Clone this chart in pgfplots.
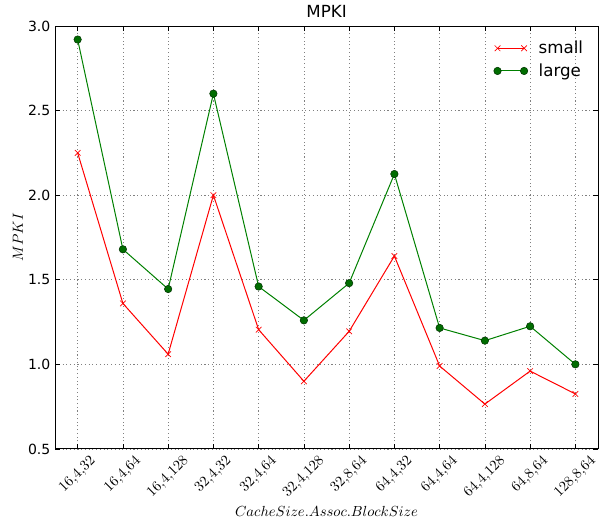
\documentclass[border=0pt]{standalone}
\usepackage{pgfplots}
\usepackage{graphicx}
\pgfplotsset{compat=1.18}
\usepackage{fontspec}
\setmainfont{DejaVu Sans}

\definecolor{mplred}{RGB}{255,0,0}
\definecolor{mplgreen}{RGB}{0,128,0}

% rotated category label whose bounding box hangs centred below the tick
\newcommand{\rl}[1]{\rotatebox{45}{$#1$}}

\pgfplotstableread{
x small large
0  2.25 2.92
1  1.36 1.68
2  1.06 1.445
3  2.00 2.60
4  1.205 1.46
5  0.90 1.26
6  1.195 1.48
7  1.64 2.125
8  0.99 1.215
9  0.765 1.14
10 0.96 1.225
11 0.825 1.00
}\mpki

\begin{document}
\begin{tikzpicture}
\begin{axis}[
  scale only axis,
  width=407pt, height=317pt,
  xmin=-0.5, xmax=11.5,
  ymin=0.5, ymax=3.0,
  xtick={0,...,11},
  xticklabels={\rl{16{,}4{,}32},\rl{16{,}4{,}64},\rl{16{,}4{,}128},\rl{32{,}4{,}32},\rl{32{,}4{,}64},\rl{32{,}4{,}128},\rl{32{,}8{,}64},\rl{64{,}4{,}32},\rl{64{,}4{,}64},\rl{64{,}4{,}128},\rl{64{,}8{,}64},\rl{128{,}8{,}64}},
  ytick={0.5,1.0,...,3.0},
  /pgf/number format/assume math mode=true,
  yticklabel style={font=\fontsize{10.5}{12}\selectfont, /pgf/number format/.cd, fixed, fixed zerofill, precision=1},
  xticklabel style={font=\fontsize{11}{12}\selectfont, anchor=north, inner sep=0pt, yshift=-4pt},
  tick align=inside,
  major tick length=4pt,
  tick style={black, line width=0.5pt},
  axis line style={black, line width=0.75pt},
  grid=major,
  grid style={dash pattern=on 0.8pt off 2pt, black!50, line width=0.5pt},
  title={MPKI},
  title style={font=\fontsize{12.5}{14}\selectfont, yshift=-3pt},
  xlabel={$CacheSize.Assoc.BlockSize$},
  ylabel={$MPKI$},
  xlabel style={font=\fontsize{10.5}{12}\selectfont, yshift=-1pt},
  ylabel style={font=\fontsize{11}{12}\selectfont, yshift=-3pt},
  legend style={draw=none, fill=none, at={(1,1)}, anchor=north east,
    xshift=-6pt, yshift=-7pt,
    font=\fontsize{12.5}{14}\selectfont, row sep=2pt},
  legend cell align=left,
  legend image code/.code={\draw[#1] plot coordinates {(0.05cm,0cm) (0.75cm,0cm)}; \path (1.05cm,0cm);},
]
\addplot[mplred, line width=0.75pt, mark=x, mark size=3pt, mark options={solid, line width=0.5pt}] table[x=x, y=small] {\mpki};
\addlegendentry{small}
\addplot[mplgreen, line width=0.75pt, mark=*, mark size=2.8pt, mark options={solid, fill=mplgreen!85!black, draw=black!60!mplgreen, line width=0.4pt}] table[x=x, y=large] {\mpki};
\addlegendentry{large}
\coordinate (sw) at (rel axis cs:0,0);
\coordinate (ne) at (rel axis cs:1,1);
\end{axis}
% page frame: the last category label runs off the right edge
\pgfresetboundingbox
\path ([shift={(-41.25pt,-57.75pt)}]sw) rectangle ([shift={(0.75pt,19.5pt)}]ne);
\end{tikzpicture}
\end{document}
